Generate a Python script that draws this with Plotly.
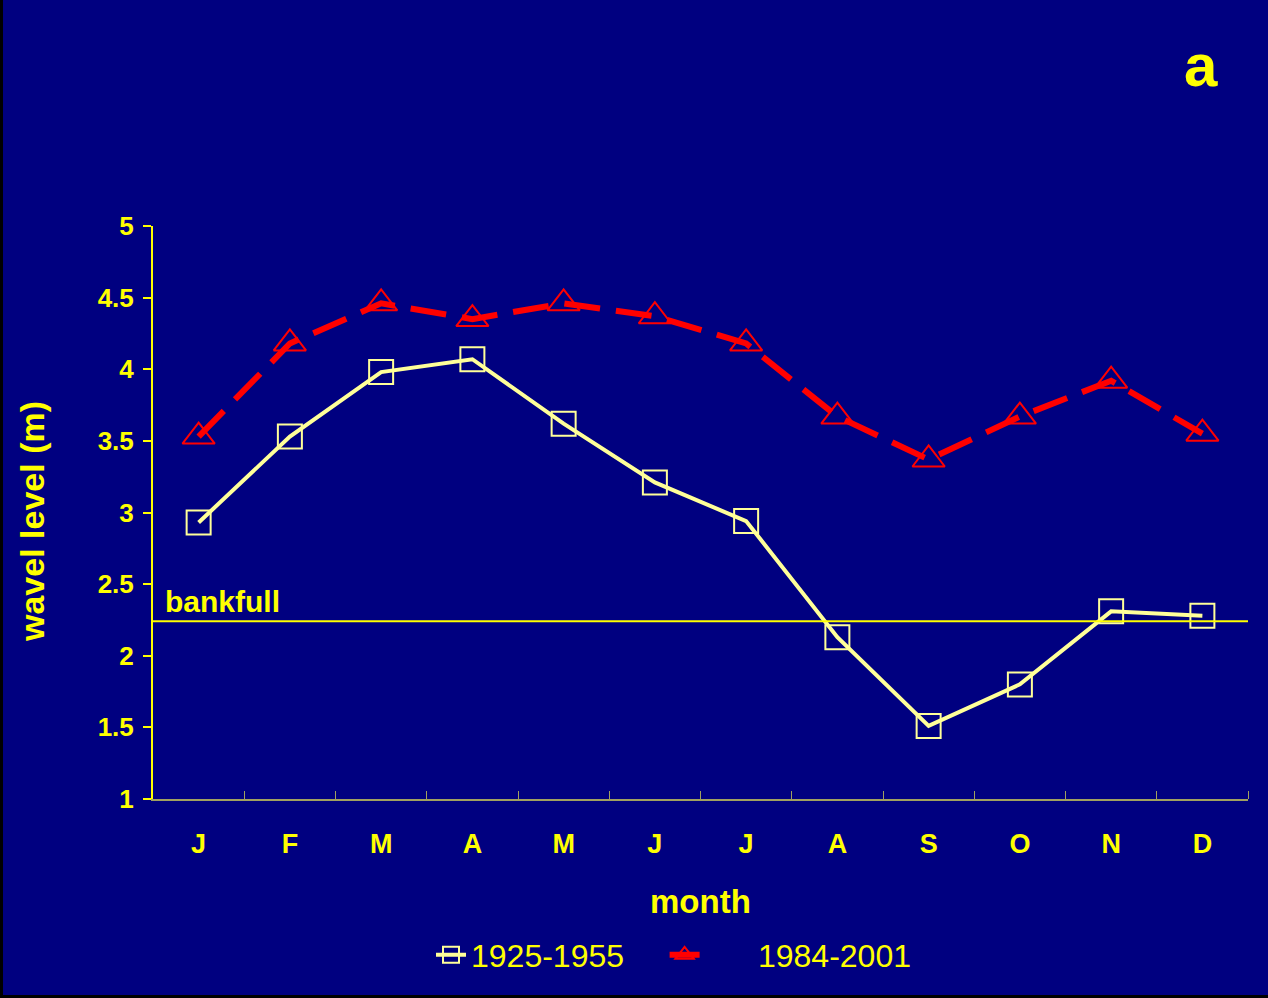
import plotly.graph_objects as go

months = ["Jan", "Feb", "Mar", "Apr", "May", "Jun", "Jul", "Aug", "Sep", "Oct", "Nov", "Dec"]
month_labels = ["J", "F", "M", "A", "M", "J", "J", "A", "S", "O", "N", "D"]
level_1925_1955 = [2.93, 3.53, 3.98, 4.07, 3.62, 3.21, 2.94, 2.13, 1.51, 1.80, 2.31, 2.28]
level_1984_2001 = [3.53, 4.18, 4.46, 4.35, 4.46, 4.37, 4.18, 3.67, 3.37, 3.67, 3.92, 3.55]
bankfull_level = 2.24
y_ticks = [1, 1.5, 2, 2.5, 3, 3.5, 4, 4.5, 5]
y_tick_labels = ["1", "1.5", "2", "2.5", "3", "3.5", "4", "4.5", "5"]

BG = "#000080"
YEL = "#FFFF00"
LIGHT = "#FFFF99"
RED = "#FF0000"
FONT = "Liberation Sans, Arial, sans-serif"
NB = "\u00a0"

x_idx = list(range(len(months)))

fig = go.Figure()
fig.add_trace(go.Scatter(
    x=x_idx, y=level_1925_1955, name="1925-1955" + NB * 4, mode="lines+markers",
    line=dict(color=LIGHT, width=4),
    marker=dict(symbol="square-open", size=24, color=LIGHT, line=dict(color=LIGHT, width=2)),
))
fig.add_trace(go.Scatter(
    x=x_idx, y=level_1984_2001, name=NB * 6 + "1984-2001", mode="lines+markers",
    line=dict(color=RED, width=6, dash="36px,16px"),
    marker=dict(symbol="triangle-up-open", size=28, color=RED, line=dict(color=RED, width=2)),
))

fig.add_shape(type="line", xref="paper", yref="y", x0=0, x1=1, y0=bankfull_level, y1=bankfull_level,
              line=dict(color=YEL, width=2))

W, H = 1268, 998
L, R, T, B = 153, 20, 226, 199
pw, ph = W - L - R, H - T - B

def px(x):
    return (x - L) / pw

def py(y):
    return (H - B - y) / ph

# figure border (left and bottom edges)
fig.add_shape(type="line", xref="paper", yref="paper", x0=px(1.5), x1=px(1.5), y0=py(H), y1=py(0),
              line=dict(color="#000000", width=3), layer="above")
fig.add_shape(type="line", xref="paper", yref="paper", x0=px(0), x1=px(W), y0=py(H - 1.5), y1=py(H - 1.5),
              line=dict(color="#000000", width=3), layer="above")

fig.add_annotation(x=px(163), y=bankfull_level, xref="paper", yref="y", text="<b>bankfull</b>",
                   showarrow=False, xanchor="left", yanchor="bottom", yshift=1,
                   font=dict(family=FONT, size=30, color=YEL))
fig.add_annotation(x=px(32), y=py(522), xref="paper", yref="paper", text="<b>wavel level (m)</b>",
                   showarrow=False, textangle=-90, xanchor="center", yanchor="middle",
                   font=dict(family=FONT, size=34, color=YEL))
fig.add_annotation(x=px(700), y=py(901), xref="paper", yref="paper", text="<b>month</b>",
                   showarrow=False, xanchor="center", yanchor="middle",
                   font=dict(family=FONT, size=33, color=YEL))
fig.add_annotation(x=px(1201), y=py(65), xref="paper", yref="paper", text="<b>a</b>",
                   showarrow=False, xanchor="center", yanchor="middle",
                   font=dict(family=FONT, size=60, color=YEL))

fig.update_layout(
    width=W, height=H,
    margin=dict(l=L, r=R, t=T, b=B, autoexpand=False),
    paper_bgcolor=BG, plot_bgcolor=BG,
    font=dict(family=FONT, color=YEL),
    showlegend=True,
    legend=dict(orientation="h", x=px(431), xanchor="left", y=py(955), yanchor="middle",
                font=dict(family=FONT, size=32, color=YEL), bgcolor="rgba(0,0,0,0)"),
    xaxis=dict(
        range=[-0.5, 11.5], tickmode="array", tickvals=x_idx,
        ticktext=[f"<b>{t}</b>" for t in month_labels],
        ticks="", showgrid=False, zeroline=False,
        showline=True, linecolor="#a0a060", linewidth=2,
        tickfont=dict(family=FONT, size=27, color=YEL),
        ticklabelstandoff=20,
        minor=dict(tickmode="array", tickvals=[i + 0.5 for i in x_idx], ticks="inside",
                   ticklen=8, tickwidth=1, tickcolor="#a0a060", showgrid=False),
    ),
    yaxis=dict(
        range=[1, 5], tickmode="array", tickvals=y_ticks,
        ticktext=[f"<b>{t}</b>" for t in y_tick_labels],
        ticks="outside", ticklen=8, tickwidth=2, tickcolor=YEL,
        showgrid=False, zeroline=False, showline=True, linecolor=YEL, linewidth=2,
        tickfont=dict(family=FONT, size=26, color=YEL),
        ticklabelstandoff=4,
    ),
)

fig.write_html("out.html", config={"displayModeBar": False},
               post_script="document.body.style.margin='0';")
